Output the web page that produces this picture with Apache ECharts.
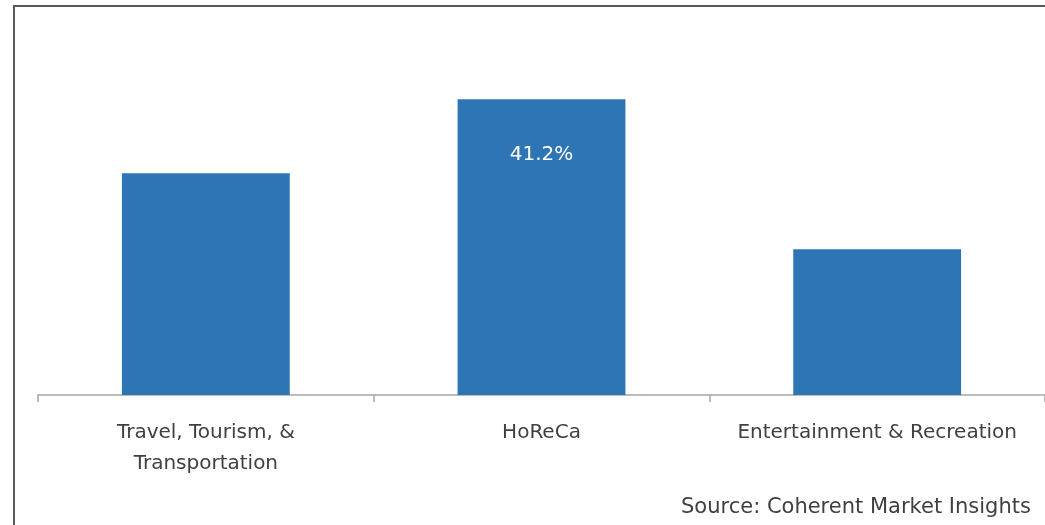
<!DOCTYPE html>
<html><head><meta charset="utf-8">
<script src="https://cdn.jsdelivr.net/npm/echarts@6/dist/echarts.min.js"></script>
<style>html,body{margin:0;padding:0;background:#fff}#c{width:1045px;height:525px}</style>
</head><body><div id="c"></div>
<script>
const categories = ['Travel, Tourism, &\nTransportation', 'HoReCa', 'Entertainment & Recreation'];
const shares = [30.9, 41.2, 20.3];
const shownLabels = [false, true, false];
const sourceText = 'Source: Coherent Market Insights';

const chart = echarts.init(document.getElementById('c'));
chart.setOption({
  animation: false,
  grid: { left: 38, top: 36, width: 1008, height: 359 },
  xAxis: {
    type: 'category', data: categories,
    axisLine: { lineStyle: { color: '#a6a6a6', width: 1.5 } },
    axisTick: { show: true, alignWithLabel: false, interval: 0, length: 7, lineStyle: { color: '#a6a6a6', width: 1.5 } },
    axisLabel: { interval: 0, color: '#404040', fontSize: 20, fontFamily: 'DejaVu Sans', lineHeight: 31, margin: 22 }
  },
  yAxis: { type: 'value', min: 0, max: 50, show: false, splitLine: { show: false } },
  series: [{
    type: 'bar', barWidth: '50%',
    data: shares.map((v, i) => ({ value: v, label: { show: shownLabels[i] } })),
    itemStyle: { color: '#2E75B6' },
    label: { position: 'insideTop', distance: 46, color: '#ffffff', fontSize: 20, fontFamily: 'DejaVu Sans', formatter: p => p.value.toFixed(1) + '%' }
  }],
  graphic: [
    { type: 'line', shape: { x1: 14, y1: 5, x2: 14, y2: 525 }, style: { stroke: '#595959', lineWidth: 2 } },
    { type: 'line', shape: { x1: 13, y1: 6, x2: 1045, y2: 6 }, style: { stroke: '#595959', lineWidth: 2 } },
    { type: 'text', left: 681, top: 497, style: { text: sourceText, fill: '#404040', fontSize: 21, fontFamily: 'DejaVu Sans' } }
  ]
});
</script></body></html>
